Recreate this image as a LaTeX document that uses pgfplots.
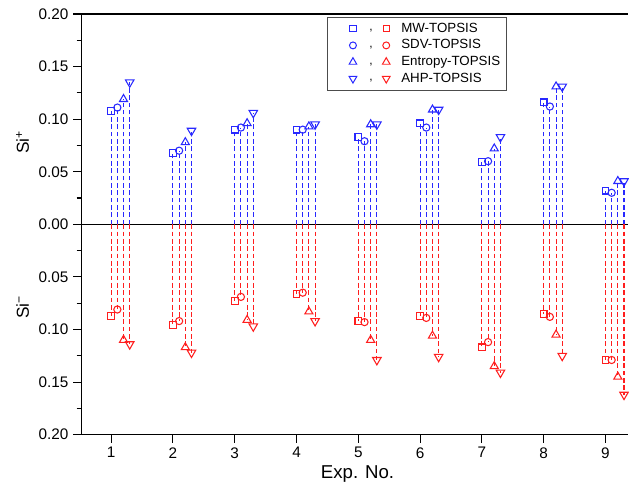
\documentclass[border=0pt]{standalone}
\usepackage{pgfplots}
\usepackage{pgfplotstable}
\pgfplotsset{compat=1.18}
\usepackage{fontspec}
\setmainfont{Liberation Sans}

\definecolor{siblue}{RGB}{40,40,255}
\definecolor{sired}{RGB}{255,30,30}

% Si+ (upper half)
\pgfplotstableread{
x mw sdv ent ahp
1 0.108 0.111 0.119 0.135
2 0.068 0.070 0.078 0.089
3 0.090 0.092 0.096 0.106
4 0.090 0.090 0.093 0.095
5 0.083 0.079 0.095 0.095
6 0.096 0.092 0.109 0.109
7 0.059 0.060 0.072 0.083
8 0.116 0.112 0.131 0.131
9 0.032 0.030 0.041 0.041
}\splus

% Si- (lower half, plotted downwards)
\pgfplotstableread{
x mw sdv ent ahp
1 -0.087 -0.081 -0.110 -0.114
2 -0.096 -0.092 -0.117 -0.122
3 -0.073 -0.069 -0.091 -0.097
4 -0.066 -0.065 -0.083 -0.092
5 -0.092 -0.093 -0.110 -0.129
6 -0.087 -0.089 -0.106 -0.126
7 -0.117 -0.112 -0.135 -0.141
8 -0.085 -0.088 -0.105 -0.125
9 -0.129 -0.129 -0.145 -0.162
}\sminus

\newcommand\pairmark[2]{%
  \path (-16pt,0pt) (34pt,0pt);
  \draw[siblue, line width=0.75pt, mark=#1, mark options={solid,#2}] plot coordinates {(0pt,0pt)};
  \node[inner sep=0pt, text height=0pt, text depth=0pt, font=\fontsize{9}{9}\selectfont] at (12pt,-1.5pt) {,};
  \draw[sired, line width=0.75pt, mark=#1, mark options={solid,#2}] plot coordinates {(25pt,0pt)};
}

\pgfplotsset{
  drop/.style={ycomb, line width=0.8pt, dash pattern=on 3.5pt off 2pt, forget plot},
  mk/.style={mark options={solid, fill=white, #1}},
}

\begin{document}
\begin{tikzpicture}
\begin{axis}[
  scale only axis, width=411pt, height=316pt,
  xmin=0.515, xmax=9.37, ymin=-0.2, ymax=0.2,
  clip=false,
  axis x line*=box, axis y line*=left,
  axis line style={-, line width=1pt},
  xtick={1,...,9}, xtick pos=left, ytick pos=left,
  ytick={-0.2,-0.15,-0.1,-0.05,0,0.05,0.1,0.15,0.2},
  minor y tick num=1,
  tick align=outside, major tick length=6pt, minor tick length=3.5pt,
  tick style={black, line width=0.8pt},
  yticklabel={\pgfmathparse{abs(\tick)}\pgfmathprintnumber[fixed,fixed zerofill,precision=2]{\pgfmathresult}},
  /pgf/number format/assume math mode=true,
  ticklabel style={font=\fontsize{11.5}{13}\selectfont},
  legend cell align=left,
  legend style={at={(0.449,0.993)}, anchor=north west, draw=black!70, line width=0.6pt,
    font=\fontsize{10}{12}\selectfont, row sep=1.3pt, inner sep=3pt,
    nodes={inner ysep=1pt, text height=7.2pt, text depth=2pt}},
]
\draw[black, line width=0.9pt] (axis cs:0.515,0) -- (axis cs:9.37,0);

\addplot[drop, siblue, mark=square, mark size=2.5pt, mk] table[x expr=\thisrow{x}, y=mw]{\splus};
\addplot[drop, siblue, mark=o, mark size=2.7pt, mk] table[x expr=\thisrow{x}+0.1, y=sdv]{\splus};
\addplot[drop, siblue, mark=triangle, mark size=3.5pt, mk] table[x expr=\thisrow{x}+0.2, y=ent]{\splus};
\addplot[drop, siblue, mark=triangle, mark size=3.7pt, mk={rotate=180}] table[x expr=\thisrow{x}+0.3, y=ahp]{\splus};

\addplot[drop, sired, mark=square, mark size=2.5pt, mk] table[x expr=\thisrow{x}, y=mw]{\sminus};
\addplot[drop, sired, mark=o, mark size=2.7pt, mk] table[x expr=\thisrow{x}+0.1, y=sdv]{\sminus};
\addplot[drop, sired, mark=triangle, mark size=3.5pt, mk] table[x expr=\thisrow{x}+0.2, y=ent]{\sminus};
\addplot[drop, sired, mark=triangle, mark size=3.7pt, mk={rotate=180}] table[x expr=\thisrow{x}+0.3, y=ahp]{\sminus};

\addlegendimage{legend image code/.code={\pairmark{square}{mark size=2.4pt}}}
\addlegendentry{MW-TOPSIS}
\addlegendimage{legend image code/.code={\pairmark{o}{mark size=2.6pt}}}
\addlegendentry{SDV-TOPSIS}
\addlegendimage{legend image code/.code={\pairmark{triangle}{mark size=3.3pt}}}
\addlegendentry{Entropy-TOPSIS}
\addlegendimage{legend image code/.code={\pairmark{triangle}{mark size=3.3pt,rotate=180}}}
\addlegendentry{AHP-TOPSIS}

\node[rotate=90, font=\fontsize{13}{15}\selectfont] at ([xshift=-44pt]rel axis cs:0,0.695) {Si\textsuperscript{+}};
\node[rotate=90, font=\fontsize{13}{15}\selectfont] at ([xshift=-44pt]rel axis cs:0,0.3025) {Si\textsuperscript{−}};
\node[anchor=base, font=\fontsize{14}{16}\selectfont] at ([yshift=-33pt]rel axis cs:0.505,0) {Exp. No.};

\path ([xshift=-61pt]rel axis cs:0,0) ([yshift=-40.5pt]rel axis cs:0,0) ([yshift=10.5pt]rel axis cs:0,1);
\end{axis}
\end{tikzpicture}
\end{document}
